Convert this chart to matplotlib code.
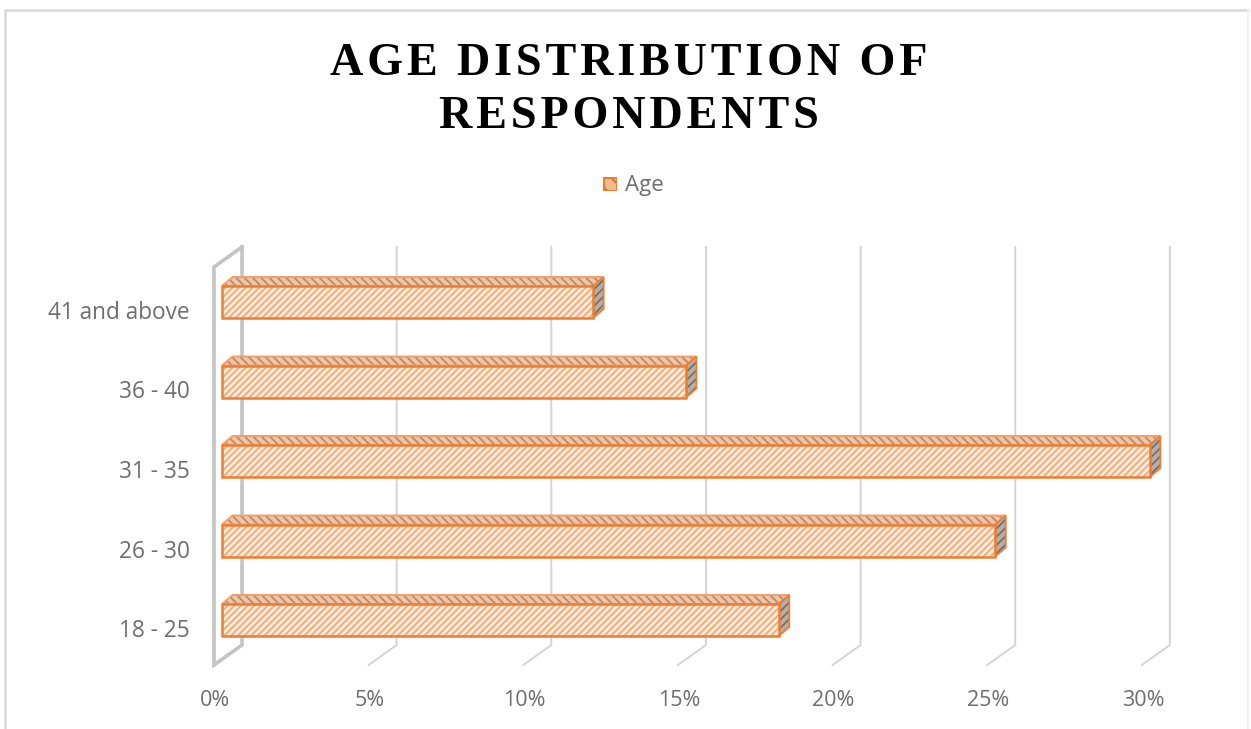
#!/usr/bin/env python3
"""Age distribution of respondents, Excel style 3D bar chart."""
import matplotlib
matplotlib.use("Agg")
import matplotlib.pyplot as plt
from matplotlib.patches import Polygon, Rectangle

categories = ["18 - 25", "26 - 30", "31 - 35", "36 - 40", "41 and above"]
values = [18, 25, 30, 15, 12]
x_ticks = [0, 5, 10, 15, 20, 25, 30]
title_lines = ["AGE DISTRIBUTION OF", "RESPONDENTS"]

W, H = 1251, 729
PX_PER_PCT = 30.93
PX_PER_CAT = 79.5
X0_PX = 222      # pixel of 0% on the bar fronts
Y0_PX = 620      # pixel of first category centre

ORANGE = "#ED7D31"
GRID = "#D4D4D4"
WALL = "#C4C4C4"
TEXT = "#6E6E6E"

plt.rcParams["hatch.linewidth"] = 1.3

fig = plt.figure(figsize=(W / 100, H / 100), dpi=100)
ax = fig.add_axes([0, 0, 1, 1])
ax.set_xlim(-X0_PX / PX_PER_PCT, (W - X0_PX) / PX_PER_PCT)
ax.set_ylim((Y0_PX - H) / PX_PER_CAT, Y0_PX / PX_PER_CAT)
ax.axis("off")


def dx(px):
    return px / PX_PER_PCT


def dy(px):
    return px / PX_PER_CAT


# chart frame, cut off at the bottom in the source
ax.plot([0.004, 0.004, 0.998], [0.0, 0.986, 0.986], transform=ax.transAxes,
        color="#D9D9D9", lw=1.8)
ax.plot([0.998, 0.998], [0.986, 0.0], transform=ax.transAxes,
        color="#F2F2F2", lw=1.2)

# gridlines on the back wall and floor
back = dx(20)
front = dx(-8)
y_top = (Y0_PX - 247) / PX_PER_CAT
y_back = (Y0_PX - 645) / PX_PER_CAT
y_front = (Y0_PX - 665) / PX_PER_CAT
for t in x_ticks[1:]:
    ax.plot([t + back, t + back, t + front], [y_top, y_back, y_front],
            color=GRID, lw=1.4, zorder=1)

# side wall at 0%
ax.plot([back, back, front, front, back],
        [y_top, y_back, y_front, y_top - (y_back - y_front), y_top],
        color=WALL, lw=2.6, zorder=1, solid_joinstyle="miter")

# bars
half = dy(16)
dep_x, dep_y = dx(10.5), dy(9)
for i, v in enumerate(values):
    top = [(0, i + half), (dep_x, i + half + dep_y),
           (v + dep_x, i + half + dep_y), (v, i + half)]
    side = [(v, i + half), (v + dep_x, i + half + dep_y),
            (v + dep_x, i - half + dep_y), (v, i - half)]
    ax.add_patch(Polygon(top, facecolor="#F0C4A6", edgecolor="#B98A6C",
                         hatch="\\\\\\\\", lw=0, zorder=2))
    ax.add_patch(Polygon(top, fill=False, edgecolor="#F0A06A", lw=1.4, zorder=2))
    ax.add_patch(Polygon(side, facecolor="#B8AEA6", edgecolor="#77706A",
                         hatch="////", lw=0, zorder=2))
    ax.add_patch(Polygon(side, fill=False, edgecolor=ORANGE, lw=1.3, zorder=2))
    # hatch in a paler tone than the outline
    ax.barh(i, v, height=2 * half, color="#FDEBDD", edgecolor="#F4A873",
            hatch="/////", lw=0, zorder=3)
    ax.barh(i, v, height=2 * half, fill=False, edgecolor=ORANGE, lw=1.8, zorder=3)
    ax.text(dx(-32), i - dy(11), categories[i], ha="right", va="center",
            fontsize=16.3, color=TEXT, family="Open Sans")

for t in x_ticks:
    ax.text(t + dx(-7), (Y0_PX - 700) / PX_PER_CAT, f"{t}%", ha="center",
            va="center", fontsize=15.5, color=TEXT, family="Open Sans")

# title, letters opened up with hair spaces
for line, base in zip(title_lines, [75, 128]):
    fig.text(629 / W, 1 - base / H, "\u200a".join(line), ha="center", va="baseline",
             fontsize=33.2, fontweight="bold",
             family=["Liberation Serif", "DejaVu Serif"], color="#000000")

# legend
leg_ax = fig.add_axes([603 / W, 1 - 191 / H, 14 / W, 14 / H])
leg_ax.set_xticks([])
leg_ax.set_yticks([])
leg_ax.add_patch(Rectangle((0, 0), 1, 1, facecolor="#F5B98F", edgecolor="#C5703A",
                           hatch="\\\\", lw=0, transform=leg_ax.transAxes))
leg_ax.add_patch(Rectangle((0, 0), 1, 1, fill=False, edgecolor=ORANGE,
                           lw=2.2, transform=leg_ax.transAxes))
for s in leg_ax.spines.values():
    s.set_visible(False)
fig.text(625 / W, 1 - 185 / H, "Age", ha="left", va="center", fontsize=16,
         color=TEXT, family="Open Sans")

fig.savefig("out.png", dpi=100)
